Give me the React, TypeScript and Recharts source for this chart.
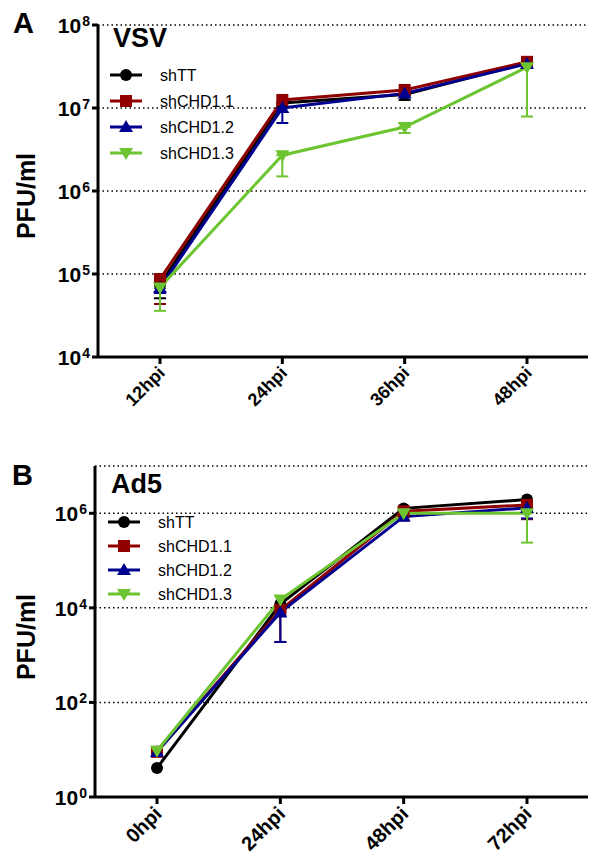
import React from "react"
import { CartesianGrid, ErrorBar, Legend, Line, LineChart, XAxis, YAxis } from "recharts"

const FONT = "'Liberation Sans', Arial, Helvetica, sans-serif"

// Panel A: VSV titres (PFU/ml)
const vsvTimes = ["12hpi", "24hpi", "36hpi", "48hpi"]
const vsvShTT = [7.5e4, 1.15e7, 1.45e7, 3.5e7]
const vsvShCHD11 = [8.7e4, 1.25e7, 1.65e7, 3.6e7]
const vsvShCHD12 = [6.8e4, 1.0e7, 1.5e7, 3.4e7]
const vsvShCHD13 = [6.9e4, 2.7e6, 5.9e6, 3.1e7]
// lower end of each error bar
const vsvShTTLow = [5.1e4, 1.15e7, 1.25e7, 3.5e7]
const vsvShCHD11Low = [4.35e4, 1.25e7, 1.65e7, 3.6e7]
const vsvShCHD12Low = [5.9e4, 6.6e6, 1.5e7, 3.4e7]
const vsvShCHD13Low = [3.6e4, 1.5e6, 5.0e6, 7.9e6]
const vsvTicks = [1e4, 1e5, 1e6, 1e7, 1e8]

// Panel B: Ad5 titres (PFU/ml)
const ad5Times = ["0hpi", "24hpi", "48hpi", "72hpi"]
const ad5ShTT = [4.1, 1.2e4, 1.27e6, 1.95e6]
const ad5ShCHD11 = [9, 9e3, 1.1e6, 1.5e6]
const ad5ShCHD12 = [9, 8e3, 8.5e5, 1.3e6]
const ad5ShCHD13 = [9.5, 1.5e4, 1.0e6, 1.0e6]
const ad5ShTTLow = [4.1, 1.2e4, 1.27e6, 1.95e6]
const ad5ShCHD11Low = [9, 1.9e3, 1.1e6, 7.5e5]
const ad5ShCHD12Low = [9, 1.9e3, 7.0e5, 7.8e5]
const ad5ShCHD13Low = [9.5, 1.5e4, 1.0e6, 2.4e5]
const ad5Ticks = [1, 1e2, 1e4, 1e6]

const series = [
  { key: "shTT", name: "shTT", color: "#000000", shape: "circle" },
  { key: "shCHD11", name: "shCHD1.1", color: "#8f0000", shape: "square" },
  { key: "shCHD12", name: "shCHD1.2", color: "#000090", shape: "triangle" },
  { key: "shCHD13", name: "shCHD1.3", color: "#6cc431", shape: "triangleDown" },
]

function buildTable(times: string[], values: number[][], lows: number[][]) {
  return times.map((t, i) => {
    const row: any = { time: t }
    series.forEach((s, j) => {
      const v = values[j][i]
      const d = v - lows[j][i]
      row[s.key] = v
      // only the lower half of each bar is drawn; no bar when there is no spread
      row[s.key + "Err"] = d > 0 ? [d, 0] : null
    })
    return row
  })
}

const vsvData = buildTable(
  vsvTimes,
  [vsvShTT, vsvShCHD11, vsvShCHD12, vsvShCHD13],
  [vsvShTTLow, vsvShCHD11Low, vsvShCHD12Low, vsvShCHD13Low]
)
const ad5Data = buildTable(
  ad5Times,
  [ad5ShTT, ad5ShCHD11, ad5ShCHD12, ad5ShCHD13],
  [ad5ShTTLow, ad5ShCHD11Low, ad5ShCHD12Low, ad5ShCHD13Low]
)

function Marker({ cx, cy, shape, color }: any) {
  if (cx == null || cy == null) return null
  if (shape === "circle") return <circle cx={cx} cy={cy} r={6} fill={color} />
  if (shape === "square") return <rect x={cx - 6} y={cy - 6} width={12} height={12} fill={color} />
  if (shape === "triangle")
    return <polygon points={`${cx},${cy - 7} ${cx + 7},${cy + 5} ${cx - 7},${cy + 5}`} fill={color} />
  return <polygon points={`${cx - 7},${cy - 5} ${cx + 7},${cy - 5} ${cx},${cy + 7}`} fill={color} />
}

function PowTick({ x, y, payload }: any) {
  const exp = Math.round(Math.log10(payload.value))
  return (
    <text x={x} y={y} textAnchor="end" fontFamily={FONT} fontWeight="bold" fill="#000">
      <tspan fontSize={21} dy={8}>10</tspan>
      <tspan fontSize={14} dx={1} dy={-7}>{exp}</tspan>
    </text>
  )
}

function HourTick({ x, y, payload, size = 18 }: any) {
  const ax = x + 6
  const ay = y + 8 + (size - 18) * 0.5
  return (
    <text
      x={ax}
      y={ay}
      transform={`rotate(-45, ${ax}, ${ay})`}
      textAnchor="end"
      fontFamily={FONT}
      fontWeight="bold"
      fontSize={size}
      fill="#000"
    >
      {payload.value}
    </text>
  )
}

function legendContent(rowGap: number) {
  return () => (
    <svg width={140} height={rowGap * 4} style={{ display: "block" }}>
      {series.map((s, i) => {
        const cy = rowGap / 2 + i * rowGap
        return (
          <g key={s.key}>
            <line x1={2} x2={34} y1={cy} y2={cy} stroke={s.color} strokeWidth={3} />
            <Marker cx={18} cy={cy} shape={s.shape} color={s.color} />
            <text x={52} y={cy + 6} fontFamily={FONT} fontSize={16} fill="#000">
              {s.name}
            </text>
          </g>
        )
      })}
    </svg>
  )
}

function Panel({ data, ticks, domain, yWidth, height, margin, legendPos, rowGap, tickFont }: any) {
  return (
    <LineChart width={592} height={height} data={data} margin={margin}>
      <CartesianGrid vertical={false} stroke="#000" strokeWidth={1.5} strokeDasharray="1.5 3" />
      <XAxis
        dataKey="time"
        padding={{ left: 62, right: 61 }}
        interval={0}
        height={60}
        tickSize={7}
        axisLine={{ stroke: "#000", strokeWidth: 3 }}
        tickLine={{ stroke: "#000", strokeWidth: 3 }}
        tick={<HourTick size={tickFont} />}
      />
      <YAxis
        type="number"
        scale="log"
        domain={domain}
        ticks={ticks}
        interval={0}
        allowDataOverflow
        width={yWidth}
        tickSize={6}
        axisLine={{ stroke: "#000", strokeWidth: 3 }}
        tickLine={{ stroke: "#000", strokeWidth: 3 }}
        tick={<PowTick />}
      />
      <Legend
        layout="horizontal"
        align="center"
        verticalAlign="middle"
        wrapperStyle={{ left: legendPos[0], top: legendPos[1], width: 140 }}
        content={legendContent(rowGap)}
      />
      {series.map((s) => (
        <Line
          key={s.key}
          dataKey={s.key}
          name={s.name}
          stroke={s.color}
          strokeWidth={3}
          isAnimationActive={false}
          activeDot={false}
          dot={(p: any) => <Marker key={`${s.key}-${p.index}`} cx={p.cx} cy={p.cy} shape={s.shape} color={s.color} />}
        >
          <ErrorBar dataKey={s.key + "Err"} direction="y" width={6} strokeWidth={2} stroke={s.color} />
        </Line>
      ))}
    </LineChart>
  )
}

export default function App() {
  return (
    <div style={{ position: "absolute", left: 0, top: 0, width: 592, height: 865, background: "#fff" }}>
      <div style={{ position: "absolute", left: 0, top: 0 }}>
        <Panel
          data={vsvData}
          ticks={vsvTicks}
          domain={[1e4, 1e8]}
          yWidth={98}
          height={430}
          margin={{ top: 25, right: 4, left: 0, bottom: 13 }}
          legendPos={[108, 62]}
          rowGap={26}
          tickFont={18}
        />
      </div>
      <div style={{ position: "absolute", left: 0, top: 440 }}>
        <Panel
          data={ad5Data}
          ticks={ad5Ticks}
          domain={[1, 1e7]}
          yWidth={95}
          height={425}
          margin={{ top: 26, right: 4, left: 0, bottom: 8 }}
          legendPos={[106, 70]}
          rowGap={24}
          tickFont={20}
        />
      </div>
      <svg
        width={592}
        height={865}
        style={{ position: "absolute", left: 0, top: 0, pointerEvents: "none" }}
        fontFamily={FONT}
        fontWeight="bold"
      >
        <text x={13} y={33} fontSize={29}>A</text>
        <text x={113} y={47} fontSize={27}>VSV</text>
        <text x={12} y={485} fontSize={29}>B</text>
        <text x={111} y={493} fontSize={27}>Ad5</text>
        <text transform="translate(35, 196) rotate(-90)" textAnchor="middle" fontSize={25}>PFU/ml</text>
        <text transform="translate(35, 637) rotate(-90)" textAnchor="middle" fontSize={25}>PFU/ml</text>
      </svg>
    </div>
  )
}
